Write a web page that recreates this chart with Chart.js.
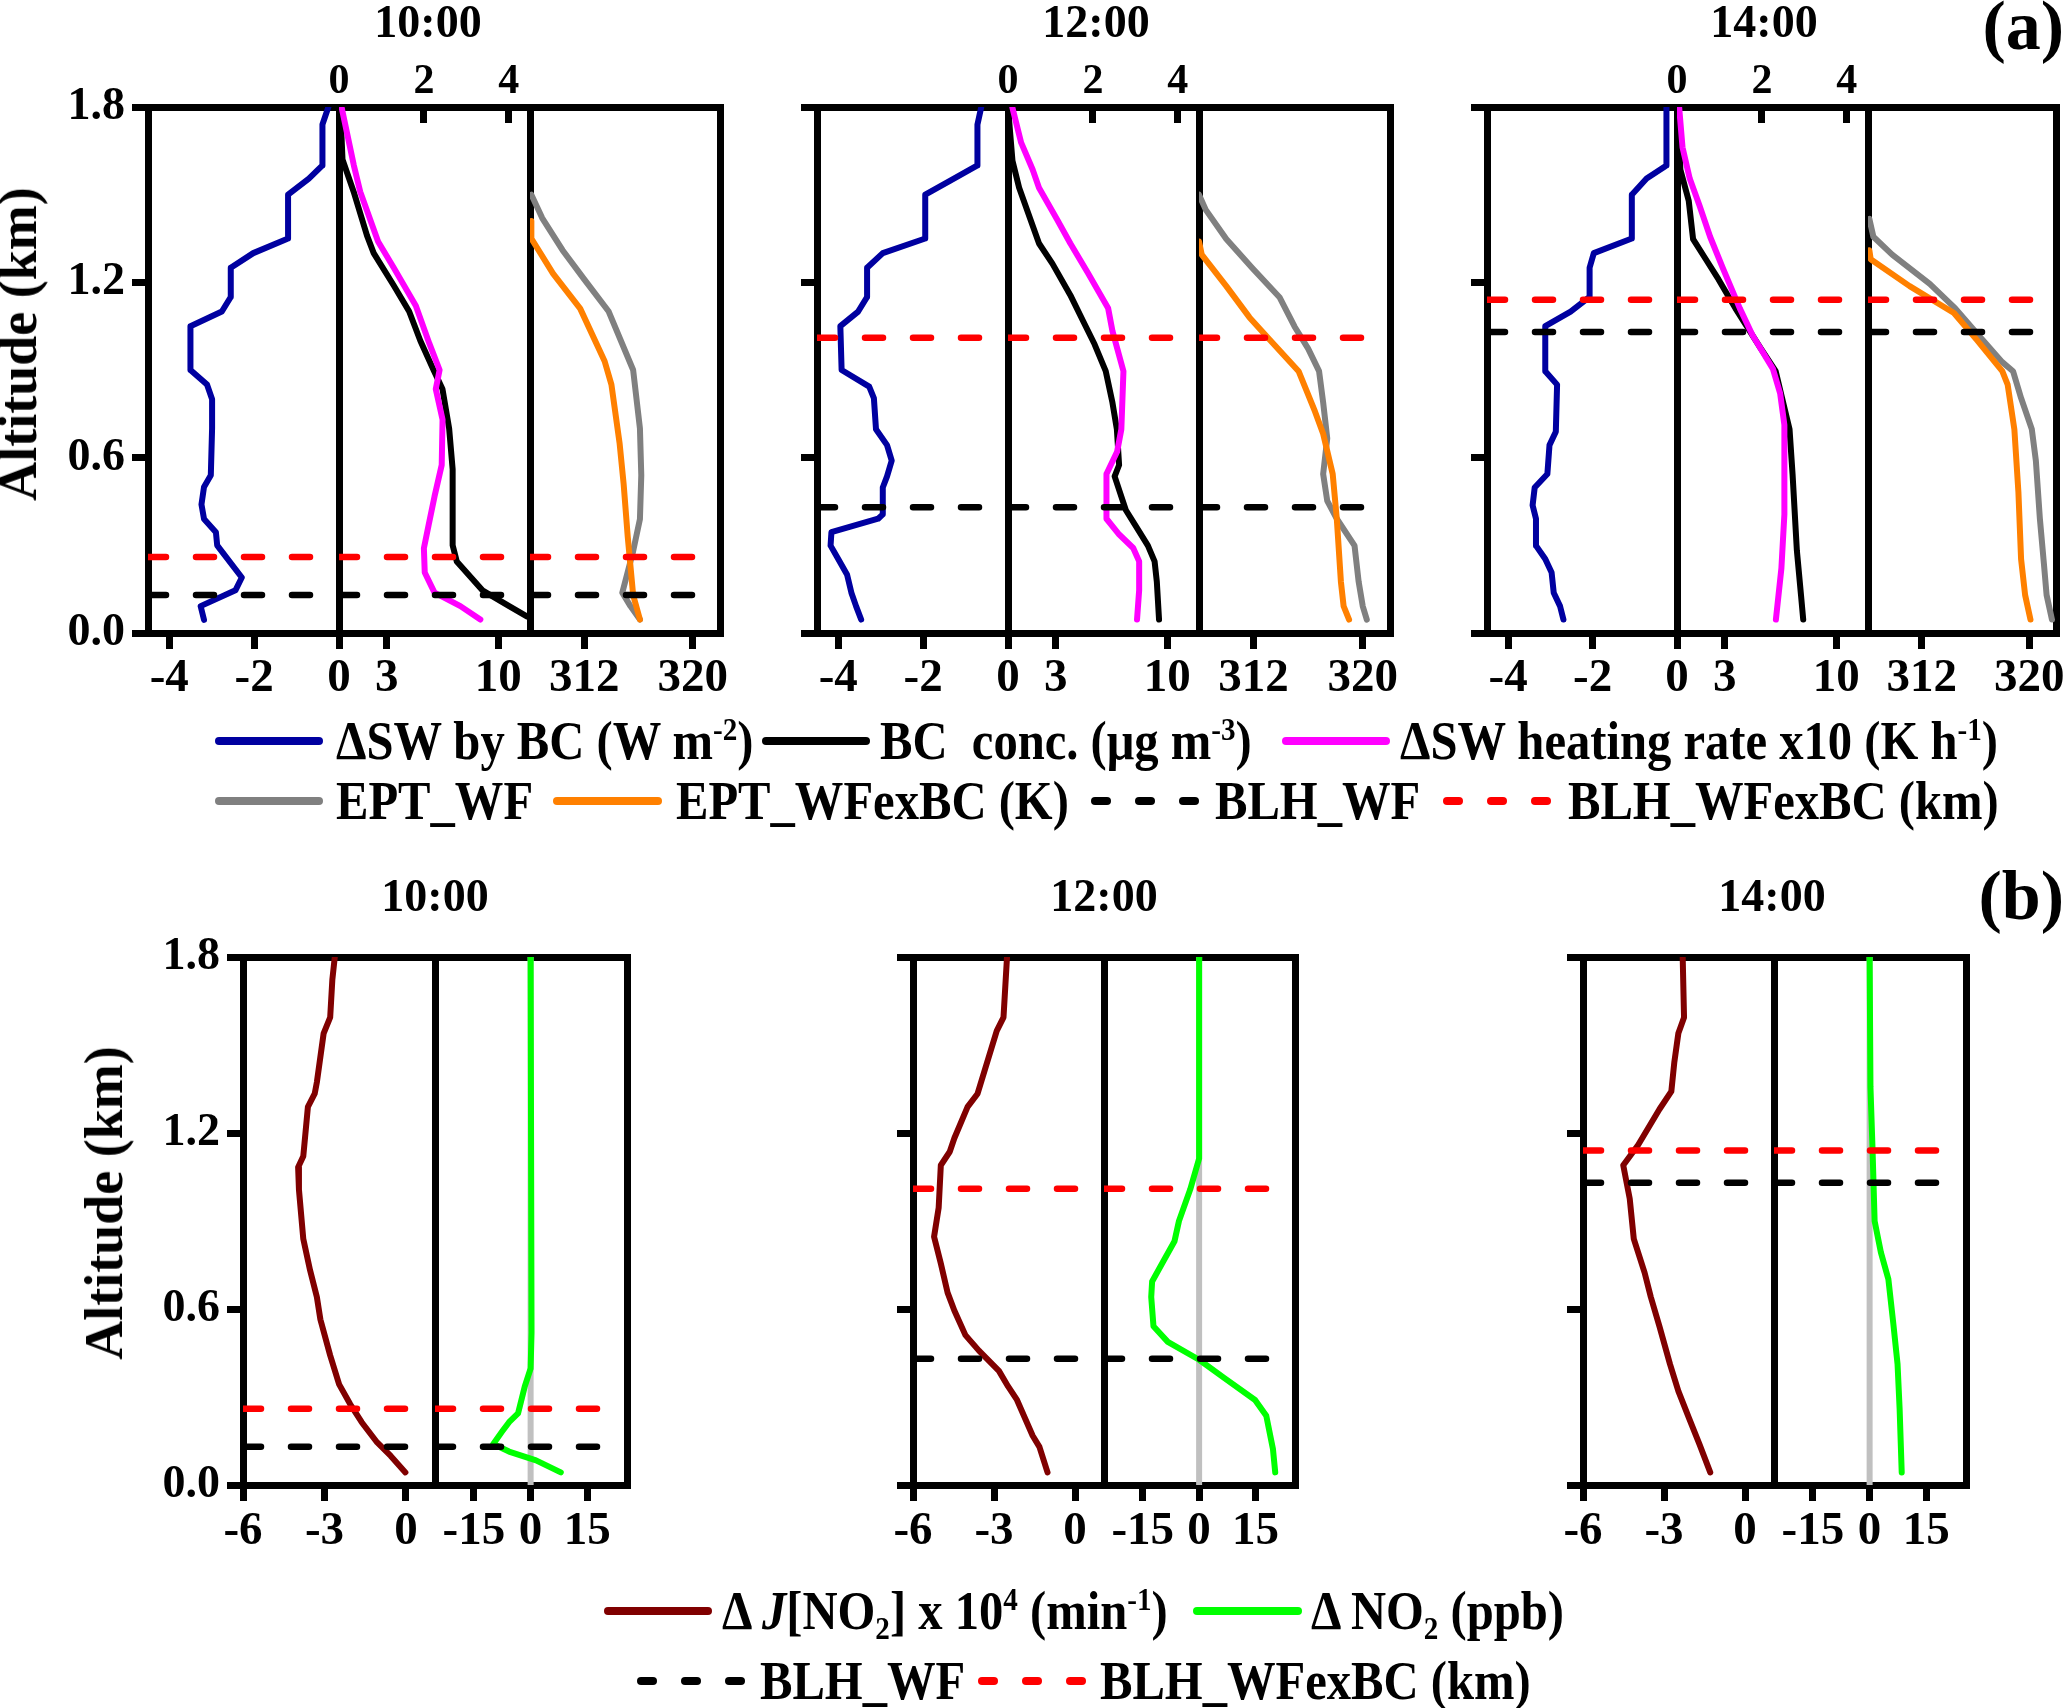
<!DOCTYPE html>
<html><head><meta charset="utf-8">
<script src="https://cdn.jsdelivr.net/npm/chart.js@4.4.0/dist/chart.umd.min.js"></script>
<style>
html,body{margin:0;padding:0;background:#fff;}
body{width:2067px;height:1708px;position:relative;overflow:hidden;font-family:"Liberation Serif","Times New Roman",serif;font-weight:bold;}
canvas{position:absolute;}
.t{position:absolute;white-space:nowrap;color:#000;font-weight:bold;font-family:"Liberation Serif","Times New Roman",serif;}
.t sup{font-size:0.6em;vertical-align:0.6em;line-height:0;}
.t sub{font-size:0.6em;vertical-align:-0.3em;line-height:0;}
.s{position:absolute;border-radius:4px;}
</style></head><body>
<script>
// ---------------- DATA ----------------
const altTicks = [0, 0.6, 1.2, 1.8];
const swTicks = [-4, -2, 0];
const bcTicks = [3, 10];
const hrTicks = [0, 2, 4];
const eptTicks = [312, 320];
const djTicks = [-6, -3, 0];
const no2Ticks = [-15, 0, 15];
const times = ['10:00', '12:00', '14:00'];

// boundary layer heights (km) for 10:00, 12:00, 14:00
const blhWF = [0.13, 0.43, 1.03];
const blhWFexBC = [0.26, 1.01, 1.14];

// dSW by BC (W m-2)
const sw10X = [-0.25,-0.39,-0.39,-0.71,-1.20,-1.20,-2.02,-2.55,-2.55,-2.76,-3.50,-3.50,-3.11,-2.99,-2.99,-3.02,-3.18,-3.24,-3.18,-2.90,-2.87,-2.29,-2.44,-3.26,-3.18];
const sw10Alt = [1.80,1.74,1.60,1.555,1.50,1.35,1.30,1.25,1.15,1.10,1.05,0.90,0.85,0.80,0.70,0.54,0.50,0.44,0.39,0.345,0.30,0.19,0.146,0.092,0.045];
const sw12X = [-0.63,-0.72,-0.72,-1.37,-1.95,-1.95,-2.95,-3.32,-3.32,-3.53,-3.95,-3.92,-3.27,-3.16,-3.11,-2.85,-2.74,-2.85,-2.95,-2.95,-3.06,-4.16,-4.18,-4.00,-3.79,-3.69,-3.58,-3.46];
const sw12Alt = [1.80,1.74,1.60,1.547,1.50,1.35,1.30,1.25,1.15,1.10,1.05,0.90,0.843,0.804,0.697,0.643,0.59,0.536,0.498,0.406,0.391,0.345,0.299,0.253,0.199,0.138,0.092,0.046];
const sw14X = [-0.25,-0.25,-0.72,-1.07,-1.07,-1.97,-2.07,-2.07,-2.52,-3.12,-3.12,-2.84,-2.87,-3.02,-3.07,-3.37,-3.42,-3.34,-3.34,-3.12,-2.97,-2.92,-2.77,-2.69];
const sw14Alt = [1.80,1.60,1.555,1.50,1.35,1.30,1.25,1.15,1.10,1.05,0.896,0.85,0.689,0.643,0.544,0.498,0.437,0.391,0.299,0.253,0.207,0.138,0.092,0.046];

// BC conc. (ug m-3)
const bc10X = [0.08,0.22,0.92,1.76,2.18,3.43,4.41,5.11,5.94,6.50,6.92,7.14,7.14,7.40,9.01,10.69,11.8];
const bc10Alt = [1.80,1.62,1.51,1.36,1.30,1.19,1.10,1.00,0.90,0.835,0.70,0.56,0.30,0.245,0.146,0.092,0.057];
const bc12X = [0,0.28,0.70,1.40,1.95,2.79,3.91,4.74,5.44,6.14,6.56,6.84,6.98,6.70,7.40,8.10,8.79,9.21,9.35,9.49];
const bc12Alt = [1.80,1.616,1.524,1.417,1.333,1.264,1.157,1.065,0.988,0.896,0.789,0.697,0.575,0.536,0.421,0.36,0.299,0.245,0.176,0.046];
const bc14X = [0.08,0.21,0.74,1.01,1.81,2.61,3.67,5.27,6.20,6.60,7.07,7.26,7.53,7.79,7.93];
const bc14Alt = [1.80,1.586,1.478,1.348,1.279,1.21,1.111,0.973,0.896,0.804,0.697,0.544,0.283,0.13,0.046];

// dSW heating rate x10 (K h-1)
const hr10X = [0.06,0.35,0.50,0.92,1.29,1.81,2.13,2.37,2.28,2.44,2.42,2.25,2.11,2.00,2.02,2.25,2.86,3.33];
const hr10Alt = [1.80,1.60,1.51,1.34,1.25,1.12,0.99,0.90,0.835,0.73,0.575,0.467,0.368,0.29,0.207,0.138,0.092,0.046];
const hr12X = [0.10,0.31,0.58,0.73,1.15,1.47,1.88,2.36,2.46,2.72,2.67,2.57,2.32,2.32,2.62,2.95,3.09,3.09,3.04];
const hr12Alt = [1.80,1.678,1.586,1.524,1.417,1.333,1.233,1.111,1.034,0.896,0.697,0.62,0.544,0.391,0.337,0.291,0.245,0.146,0.046];
const hr14X = [0.05,0.13,0.30,0.53,0.78,1.08,1.48,1.78,2.26,2.43,2.53,2.53,2.46,2.33];
const hr14Alt = [1.80,1.662,1.555,1.463,1.356,1.249,1.111,1.019,0.904,0.82,0.712,0.406,0.222,0.046];

// EPT_WF (K)
const eptWF10X = [308.1,308.9,310.4,312.0,313.8,315.6,316.1,316.2,316.1,315.6,314.8,315.4,316.1];
const eptWF10Alt = [1.50,1.42,1.31,1.21,1.10,0.90,0.70,0.54,0.39,0.28,0.138,0.092,0.046];
const eptWF12X = [308.0,308.5,310.0,311.9,313.9,315.0,316.0,316.8,317.1,317.4,317.1,317.4,318.1,319.4,319.7,320.0,320.3];
const eptWF12Alt = [1.50,1.448,1.348,1.249,1.149,1.049,0.973,0.896,0.789,0.666,0.544,0.452,0.391,0.299,0.176,0.092,0.046];
const eptWF14X = [308.1,308.4,309.8,312.6,314.5,316.1,318.0,318.8,319.4,320.2,320.5,320.8,321.1,321.3,321.7];
const eptWF14Alt = [1.417,1.356,1.295,1.195,1.111,1.026,0.927,0.896,0.804,0.697,0.59,0.391,0.237,0.13,0.046];

// EPT_WFexBC (K)
const eptEx10X = [308.1,308.1,309.7,311.7,313.5,314.0,314.6,314.9,315.2,315.6,316.1];
const eptEx10Alt = [1.41,1.35,1.23,1.11,0.93,0.85,0.65,0.51,0.33,0.13,0.046];
const eptEx12X = [308.0,308.2,310.0,311.7,313.2,315.3,316.5,317.1,317.8,318.1,318.4,318.6,319.0];
const eptEx12Alt = [1.34,1.295,1.187,1.08,1.003,0.896,0.758,0.682,0.544,0.391,0.176,0.092,0.046];
const eptEx14X = [308.1,308.2,311.1,314.4,316.1,318.0,318.4,318.9,319.2,319.4,319.7,320.1];
const eptEx14Alt = [1.31,1.279,1.187,1.095,1.003,0.896,0.85,0.697,0.483,0.253,0.13,0.046];

// dJ[NO2] x 1e4 (min-1)
const dj10X = [-2.62,-2.71,-2.79,-3.03,-3.28,-3.36,-3.61,-3.78,-3.97,-3.94,-3.78,-3.53,-3.28,-3.15,-2.79,-2.46,-2.05,-1.63,-1.06,-0.56,-0.02];
const dj10Alt = [1.80,1.723,1.594,1.54,1.373,1.334,1.289,1.121,1.083,1.007,0.839,0.732,0.641,0.564,0.442,0.343,0.275,0.214,0.145,0.099,0.043];
const dj12X = [-2.52,-2.65,-2.90,-3.61,-3.98,-4.47,-4.64,-4.97,-5.05,-5.22,-4.97,-4.72,-4.47,-4.06,-3.56,-2.82,-2.48,-2.15,-1.57,-1.32,-1.02];
const dj12Alt = [1.80,1.594,1.548,1.334,1.289,1.182,1.136,1.09,0.945,0.846,0.755,0.656,0.595,0.511,0.458,0.389,0.336,0.29,0.168,0.13,0.043];
const dj14X = [-2.31,-2.26,-2.47,-2.62,-2.73,-3.17,-3.96,-4.51,-4.27,-4.12,-3.72,-3.49,-3.17,-2.78,-2.47,-2.08,-1.68,-1.29];
const dj14Alt = [1.80,1.594,1.54,1.441,1.342,1.281,1.159,1.09,0.976,0.839,0.724,0.641,0.541,0.412,0.32,0.229,0.137,0.043];

// dNO2 (ppb)
const no10X = [0,0.24,0,-1.55,-3.33,-5.71,-7.5,-9.88,-5.71,1.43,7.98];
const no10Alt = [1.80,0.519,0.397,0.336,0.244,0.214,0.183,0.14,0.114,0.084,0.043];
const no12X = [0,0,-2.38,-5.36,-6.55,-9.52,-12.5,-12.74,-12.14,-8.33,0,6.55,14.88,17.86,19.64,20.24];
const no12Alt = [1.80,1.113,1.007,0.90,0.831,0.763,0.694,0.641,0.541,0.488,0.427,0.366,0.29,0.236,0.122,0.043];
const no14X = [0,0.22,0.77,1.32,2.98,4.96,6.28,7.39,7.94,8.49];
const no14Alt = [1.80,1.357,1.144,0.90,0.793,0.702,0.549,0.412,0.259,0.043];

// ---------------- STYLE / LAYOUT ----------------
const FONT = 'Liberation Serif';
const C = {sw:'#0000A0', bc:'#000000', hr:'#FF00FF', wf:'#808080', ex:'#FF8000', blhWF:'#000000', blhEx:'#FF0000', dj:'#800000', no2:'#00FF00', zero:'#C0C0C0'};
const TOP_Y = [107, 633];
const BOT_Y = [957, 1485];
const TOPG = [[148,339,530,720],[817,1008,1199,1390],[1487,1677,1868,2056]];
const BOTG = [[243,435,627],[913,1104,1295],[1583,1774,1966]];
const R = {sw:[-4.5,0], bc:[0,12], hr:[0,4.5], ept:[308,322], dj:[-6,1.07], no2:[-25.3,25.5]};
const FRAME = 7, LINEW = 6;

function pts(xs, alts){ return xs.map((v,i)=>({x:v, y:alts[i]})); }
function lineDS(xs, alts, color, axis, width, extra){
  return Object.assign({data: pts(xs, alts), borderColor: color, backgroundColor: color,
    borderWidth: width || LINEW, pointRadius: 0, pointHoverRadius: 0, fill: false, tension: 0,
    borderCapStyle: 'round', borderJoinStyle: 'round', xAxisID: axis || 'x', yAxisID: 'y'}, extra || {});
}
function blhDS(v, color, rng){
  return lineDS([rng[0], rng[1]], [v, v], color, 'x', 6.5, {borderDash:[18,30], borderCapStyle:'round'});
}
const xFont = {family: FONT, size: 47, weight: 'bold'};
const yFont = {family: FONT, size: 46, weight: 'bold'};
const tFont = {family: FONT, size: 42, weight: 'bold'};

function panel(cfg){
  const padL = cfg.padL, padR = 26, padT = cfg.padT, padB = 100;
  const W = cfg.x1 - cfg.x0, H = cfg.y1 - cfg.y0;
  const cw = W + padL + padR, ch = H + padT + padB;
  const c = document.createElement('canvas');
  c.width = cw; c.height = ch;
  c.style.left = (cfg.x0 - padL) + 'px'; c.style.top = (cfg.y0 - padT) + 'px';
  c.style.width = cw + 'px'; c.style.height = ch + 'px';
  document.body.appendChild(c);
  const top = cfg.top;
  new Chart(c.getContext('2d'), {
    type: 'line',
    data: {datasets: cfg.datasets},
    options: {
      responsive: false, animation: false, devicePixelRatio: 1, events: [],
      layout: {padding: 0},
      plugins: {legend: {display: false}, tooltip: {enabled: false}},
      scales: {
        x: {type: 'linear', position: 'bottom', min: cfg.range[0], max: cfg.range[1],
          afterBuildTicks: s => { s.ticks = cfg.ticks.map(v => ({value: v})); },
          afterFit: s => { s.height = padB; },
          ticks: {display: true, font: xFont, color: '#000', padding: cfg.xPad, maxRotation: 0, autoSkip: false, callback: v => String(v)},
          grid: {drawOnChartArea: false, drawTicks: true, tickLength: 16, lineWidth: FRAME, color: '#000'},
          border: {display: true, width: FRAME, color: '#000'}},
        xt: top ? {type: 'linear', position: 'top', min: top.range[0], max: top.range[1],
          afterBuildTicks: s => { s.ticks = top.ticks.map(v => ({value: v})); },
          afterFit: s => { s.height = padT; },
          ticks: {display: true, font: tFont, color: '#000', padding: 16, maxRotation: 0, autoSkip: false, callback: v => String(v)},
          grid: {drawOnChartArea: false, drawTicks: true, tickLength: -16, lineWidth: FRAME, color: '#000'},
          border: {display: true, width: FRAME, color: '#000'}}
        : {type: 'linear', position: 'top', min: cfg.range[0], max: cfg.range[1],
          afterFit: s => { s.height = padT; },
          ticks: {display: false}, grid: {display: false},
          border: {display: true, width: FRAME, color: '#000'}},
        y: {type: 'linear', position: 'left', min: 0, max: 1.8,
          afterBuildTicks: s => { s.ticks = altTicks.map(v => ({value: v})); },
          afterFit: s => { s.width = padL; },
          ticks: {display: !!cfg.yLabels, font: yFont, color: '#000', padding: 7, callback: v => v.toFixed(1)},
          grid: {display: !!cfg.yTicks, drawOnChartArea: false, drawTicks: true, tickLength: 16, lineWidth: FRAME, color: '#000'},
          border: {display: true, width: FRAME, color: '#000'}},
        yr: {type: 'linear', position: 'right', min: 0, max: 1.8,
          afterFit: s => { s.width = padR; },
          ticks: {display: false}, grid: {display: false},
          border: {display: !!cfg.last, width: FRAME, color: '#000'}}
      }
    }
  });
}

// ---------------- TOP (a) ----------------
const swSets = [[sw10X,sw10Alt],[sw12X,sw12Alt],[sw14X,sw14Alt]];
const bcSets = [[bc10X,bc10Alt],[bc12X,bc12Alt],[bc14X,bc14Alt]];
const hrSets = [[hr10X,hr10Alt],[hr12X,hr12Alt],[hr14X,hr14Alt]];
const wfSets = [[eptWF10X,eptWF10Alt],[eptWF12X,eptWF12Alt],[eptWF14X,eptWF14Alt]];
const exSets = [[eptEx10X,eptEx10Alt],[eptEx12X,eptEx12Alt],[eptEx14X,eptEx14Alt]];
const djSets = [[dj10X,dj10Alt],[dj12X,dj12Alt],[dj14X,dj14Alt]];
const noSets = [[no10X,no10Alt],[no12X,no12Alt],[no14X,no14Alt]];

for (let g = 0; g < 3; g++){
  const xs = TOPG[g];
  const blh = r => [blhDS(blhWFexBC[g], C.blhEx, r), blhDS(blhWF[g], C.blhWF, r)];
  panel({x0: xs[0], x1: xs[1], y0: TOP_Y[0], y1: TOP_Y[1], padL: g === 0 ? 125 : 40, padT: 110, xPad: 2,
    range: R.sw, ticks: swTicks, yTicks: true, yLabels: g === 0,
    datasets: [...blh(R.sw), lineDS(swSets[g][0], swSets[g][1], C.sw)]});
  panel({x0: xs[1], x1: xs[2], y0: TOP_Y[0], y1: TOP_Y[1], padL: 40, padT: 110, xPad: 2,
    range: R.bc, ticks: bcTicks, top: {range: R.hr, ticks: hrTicks},
    datasets: [...blh(R.bc), lineDS(hrSets[g][0], hrSets[g][1], C.hr, 'xt'), lineDS(bcSets[g][0], bcSets[g][1], C.bc)]});
  panel({x0: xs[2], x1: xs[3], y0: TOP_Y[0], y1: TOP_Y[1], padL: 40, padT: 110, xPad: 2, last: true,
    range: R.ept, ticks: eptTicks,
    datasets: [...blh(R.ept), lineDS(exSets[g][0], exSets[g][1], C.ex), lineDS(wfSets[g][0], wfSets[g][1], C.wf)]});
}

// ---------------- BOTTOM (b) ----------------
for (let g = 0; g < 3; g++){
  const xs = BOTG[g];
  const blh = r => [blhDS(blhWFexBC[g], C.blhEx, r), blhDS(blhWF[g], C.blhWF, r)];
  panel({x0: xs[0], x1: xs[1], y0: BOT_Y[0], y1: BOT_Y[1], padL: g === 0 ? 125 : 40, padT: 60, xPad: 3,
    range: R.dj, ticks: djTicks, yTicks: true, yLabels: g === 0,
    datasets: [...blh(R.dj), lineDS(djSets[g][0], djSets[g][1], C.dj)]});
  panel({x0: xs[1], x1: xs[2], y0: BOT_Y[0], y1: BOT_Y[1], padL: 40, padT: 60, xPad: 3, last: true,
    range: R.no2, ticks: no2Ticks,
    datasets: [...blh(R.no2), lineDS(noSets[g][0], noSets[g][1], C.no2),
               lineDS([0, 0], [0, 1.8], C.zero, 'x', 6, {borderCapStyle: 'butt'})]});
}

// ---------------- TEXT ----------------
function txt(html, x, y, size, align, extraStyle){
  const d = document.createElement('div');
  d.className = 't'; d.innerHTML = html;
  d.style.fontSize = size + 'px'; d.style.lineHeight = size + 'px';
  d.style.top = (y - size * 0.5) + 'px';
  if (align === 'center'){ d.style.left = x + 'px'; d.style.transform = 'translateX(-50%)'; }
  else if (align === 'right'){ d.style.right = (2067 - x) + 'px'; }
  else { d.style.left = x + 'px'; }
  if (extraStyle) Object.assign(d.style, extraStyle);
  document.body.appendChild(d);
  return d;
}
function vtxt(html, cx, cy, size){
  const d = document.createElement('div');
  d.className = 't'; d.innerHTML = html;
  d.style.fontSize = size + 'px'; d.style.lineHeight = size + 'px';
  d.style.left = cx + 'px'; d.style.top = cy + 'px';
  d.style.transform = 'translate(-50%,-50%) rotate(-90deg)';
  document.body.appendChild(d);
}
const topTitleX = [428, 1096, 1764];
const botTitleX = [435, 1104, 1772];
times.forEach((t, i) => { txt(t, topTitleX[i], 22, 46, 'center'); txt(t, botTitleX[i], 896, 46, 'center'); });
txt('(a)', 2064, 26, 70, 'right');
txt('(b)', 2064, 896, 70, 'right');
vtxt('Altitude (km)', 18, 344, 54);
vtxt('Altitude (km)', 104, 1203, 54);

// legend
function solid(x0, x1, y, color){
  const d = document.createElement('div'); d.className = 's';
  Object.assign(d.style, {left: x0 + 'px', top: (y - 4) + 'px', width: (x1 - x0) + 'px', height: '8px', background: color});
  document.body.appendChild(d);
}
function dashed(x0, y, color){
  for (let i = 0; i < 3; i++){
    const d = document.createElement('div'); d.className = 's';
    Object.assign(d.style, {left: (x0 + i * 44) + 'px', top: (y - 4) + 'px', width: '20px', height: '8px', background: color});
    document.body.appendChild(d);
  }
}
const LS = 54, LSX = {transform: 'scaleX(0.9)', transformOrigin: 'left center'};
function leg(html, x, y){ txt(html, x, y, LS, 'left', LSX); }

solid(215, 323, 741, C.sw);  leg('&Delta;SW by BC (W m<sup>-2</sup>)', 336, 741);
solid(762, 870, 741, C.bc);  leg('BC&nbsp; conc. (&mu;g m<sup>-3</sup>)', 880, 741);
solid(1282, 1390, 741, C.hr); leg('&Delta;SW heating rate x10 (K h<sup>-1</sup>)', 1400, 741);
solid(215, 323, 801, C.wf);  leg('EPT_WF', 336, 801);
solid(553, 662, 801, C.ex);  leg('EPT_WFexBC (K)', 676, 801);
dashed(1091, 801, C.blhWF);  leg('BLH_WF', 1215, 801);
dashed(1443, 801, C.blhEx);  leg('BLH_WFexBC (km)', 1568, 801);

solid(604, 712, 1611, C.dj);  leg('&Delta; <i>J</i>[NO<sub>2</sub>] x 10<sup>4</sup> (min<sup>-1</sup>)', 722, 1611);
solid(1193, 1302, 1611, C.no2); leg('&Delta; NO<sub>2</sub> (ppb)', 1311, 1611);
dashed(637, 1681, C.blhWF);  leg('BLH_WF', 760, 1681);
dashed(978, 1681, C.blhEx);  leg('BLH_WFexBC (km)', 1100, 1681);
</script>
</body></html>
